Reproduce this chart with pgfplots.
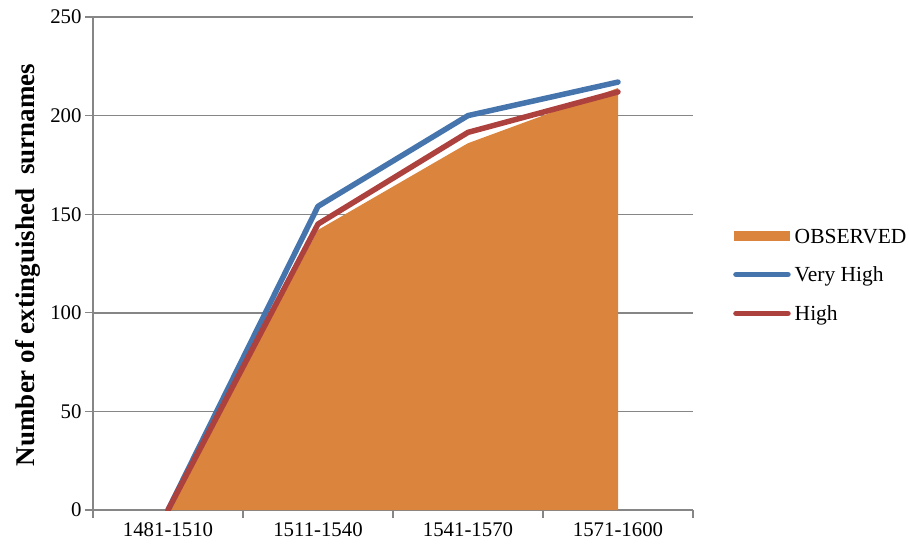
\documentclass[border=0pt]{standalone}
\usepackage{pgfplots}
\pgfplotsset{compat=1.18}
\usepackage{fontspec}
\setmainfont{Liberation Serif}
\definecolor{obsorange}{HTML}{DB843D}
\definecolor{vhblue}{HTML}{4674AC}
\definecolor{hred}{HTML}{AD413E}
\definecolor{axgray}{HTML}{868686}
\begin{document}
\begin{tikzpicture}[font=\fontsize{20.8}{25}\selectfont]
\useasboundingbox (-93pt,-40pt) rectangle (816pt,510pt);
\begin{axis}[
    at={(0pt,0pt)}, anchor=south west,
    scale only axis, width=600pt, height=493pt,
    xmin=-0.5, xmax=3.5, ymin=0, ymax=250,
    axis lines*=left,
    axis line style={draw=axgray, line width=1.2pt},
    xtick={0,1,2,3},
    xticklabels={1481-1510,1511-1540,1541-1570,1571-1600},
    minor xtick={-0.5,0.5,1.5,2.5,3.5},
    ytick={0,50,100,150,200,250},
    tick align=outside,
    major x tick style={draw=none},
    minor tick length=8pt, major tick length=8pt,
    tick style={draw=axgray, line width=1.2pt},
    ymajorgrids, grid style={draw=axgray, line width=1.4pt},
    /pgf/number format/assume math mode=true,
    ylabel={\bfseries Number of extinguished\ \ surnames},
    ylabel style={at={(axis description cs:-0.108,0.497)}, anchor=center,
        font=\fontsize{27}{32}\selectfont},
    xticklabel style={yshift=-1pt},
    legend cell align=left,
    legend style={draw=none, fill=none, at={(axis description cs:1.0667,0.477)},
        anchor=west, inner sep=0pt, row sep=24pt,
        font=\fontsize{21.5}{25}\selectfont,
        nodes={inner sep=0pt, text depth=0pt}},
    legend image code/.code={\draw[#1] (2pt,0pt) -- (54pt,0pt);},
    /tikz/every odd column/.style={column sep=4pt},
]
\addplot[fill=obsorange, draw=none,
    legend image code/.code={\fill[obsorange] (0pt,-5pt) rectangle (56pt,5pt);}]
    coordinates {(0,0) (1,142) (2,186) (3,214)} \closedcycle;
\addlegendentry{OBSERVED}
\addplot[vhblue, line width=5.5pt, line cap=round, line join=round]
    coordinates {(0,0) (1,154) (2,200) (3,217)};
\addlegendentry{Very High}
\addplot[hred, line width=5.5pt, line cap=round, line join=round]
    coordinates {(0,0) (1,145) (2,191.5) (3,212)};
\addlegendentry{High}
\end{axis}
\end{tikzpicture}
\end{document}
